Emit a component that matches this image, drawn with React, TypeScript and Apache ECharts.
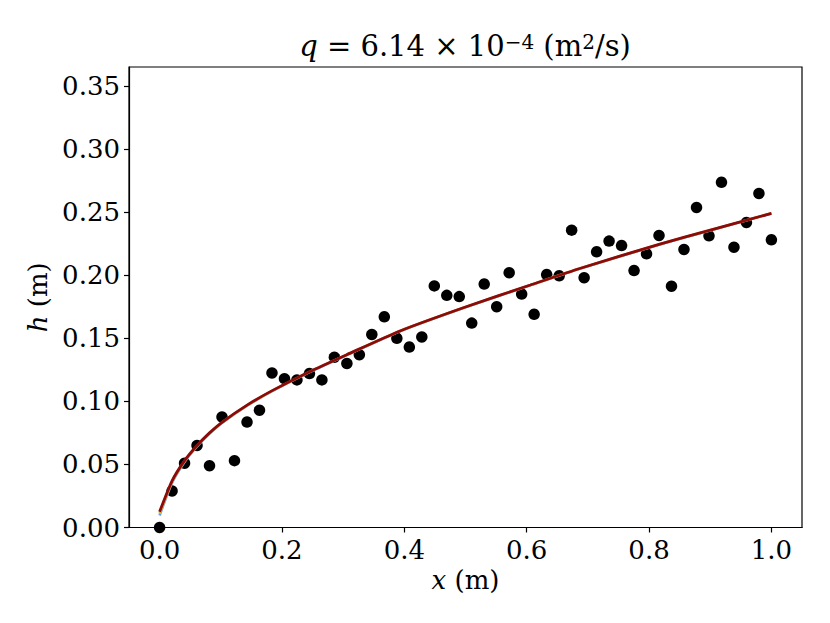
import React, { useEffect, useRef } from "react";
import * as echarts from "echarts";

const xObs = [
  0, 0.0204, 0.0408, 0.0612, 0.0816, 0.102, 0.1224, 0.1429, 0.1633, 0.1837,
  0.2041, 0.2245, 0.2449, 0.2653, 0.2857, 0.3061, 0.3265, 0.3469, 0.3673, 0.3878,
  0.4082, 0.4286, 0.449, 0.4694, 0.4898, 0.5102, 0.5306, 0.551, 0.5714, 0.5918,
  0.6122, 0.6327, 0.6531, 0.6735, 0.6939, 0.7143, 0.7347, 0.7551, 0.7755, 0.7959,
  0.8163, 0.8367, 0.8571, 0.8776, 0.898, 0.9184, 0.9388, 0.9592, 0.9796, 1.0,
];
const hObs = [
  0.0, 0.029, 0.051, 0.065, 0.049, 0.0876, 0.053, 0.0836, 0.093, 0.1225,
  0.118, 0.117, 0.122, 0.117, 0.135, 0.13, 0.137, 0.153, 0.167, 0.15,
  0.143, 0.151, 0.1915, 0.184, 0.183, 0.162, 0.193, 0.175, 0.202, 0.185,
  0.169, 0.2005, 0.1995, 0.2357, 0.198, 0.2185, 0.227, 0.2235, 0.2037, 0.2169,
  0.2315, 0.1913, 0.2204, 0.2537, 0.2312, 0.2736, 0.2222, 0.2418, 0.2648, 0.228,
];

const xFit = [0, 0.0204, 0.0408, 0.0612, 0.0816, 0.102, 0.143, 0.184, 0.245, 0.306, 0.394, 0.5, 0.606, 0.688, 0.819, 0.9, 1.0];
const hFitRed = [0.0125, 0.037, 0.053, 0.065, 0.075, 0.0834, 0.097, 0.1085, 0.1235, 0.137, 0.156, 0.1748, 0.1922, 0.2055, 0.2248, 0.2357, 0.249];
const hFitOrange = [0.011, 0.0362, 0.0525, 0.0646, 0.0747, 0.0832, 0.0968, 0.1083, 0.1234, 0.1369, 0.1559, 0.1747, 0.1921, 0.2054, 0.2247, 0.2356, 0.249];
const hFitBlue = [0.0095, 0.0355, 0.052, 0.0642, 0.0744, 0.0829, 0.0966, 0.1081, 0.1232, 0.1367, 0.1558, 0.1746, 0.192, 0.2053, 0.2246, 0.2355, 0.2489];

const yTicks = [0, 0.05, 0.1, 0.15, 0.2, 0.25, 0.3, 0.35];
const xTicks = [0, 0.2, 0.4, 0.6, 0.8, 1.0];

const FONT = "DejaVu Serif";
const FS = 26;

function pairs(xs: number[], ys: number[]) {
  return xs.map((x, i) => [x, ys[i]]);
}

export default function App() {
  const ref = useRef<HTMLDivElement>(null);
  useEffect(() => {
    if (!ref.current) return;
    const chart = echarts.init(ref.current, null, { renderer: "svg" });
    const lineStyle = { color: "#000", width: 1.2 };
    const nameStyle = {
      fontFamily: FONT,
      fontSize: FS,
      color: "#000",
      rich: { i: { fontFamily: FONT, fontSize: FS, fontStyle: "italic", color: "#000" } },
    };
    chart.setOption({
      animation: false,
      backgroundColor: "#fff",
      grid: {
        left: 129,
        top: 67,
        width: 673,
        height: 460.5,
        show: true,
        borderColor: "#000",
        borderWidth: 1.2,
        containLabel: false,
      },
      graphic: [
        {
          type: "text",
          x: 465,
          y: 46,
          style: {
            text: "{i|q} = 6.14 × 10{sup|−4} (m{sup|2}/s)",
            fontFamily: FONT,
            fontSize: 29,
            fill: "#000",
            textAlign: "center",
            textVerticalAlign: "middle",
            rich: {
              i: { fontFamily: FONT, fontSize: 29, fontStyle: "italic", fill: "#000" },
              sup: { fontFamily: FONT, fontSize: 20, fill: "#000", verticalAlign: "top", lineHeight: 20 },
            },
          },
        },
      ],
      xAxis: {
        type: "value",
        min: -0.05,
        max: 1.05,
        axisLine: { show: true, onZero: false, lineStyle },
        axisTick: { show: true, length: 5, customValues: xTicks, lineStyle },
        splitLine: { show: false },
        axisLabel: {
          customValues: xTicks,
          margin: 9,
          fontFamily: FONT,
          fontSize: FS,
          color: "#000",
          formatter: (v: number) => v.toFixed(1),
        },
        name: "{i|x} (m)",
        nameLocation: "middle",
        nameGap: 36,
        nameTextStyle: nameStyle,
      },
      yAxis: {
        type: "value",
        min: 0,
        max: 0.365,
        axisLine: { show: true, onZero: false, lineStyle },
        axisTick: { show: true, length: 5, customValues: yTicks, lineStyle },
        splitLine: { show: false },
        axisLabel: {
          customValues: yTicks,
          margin: 9,
          fontFamily: FONT,
          fontSize: FS,
          color: "#000",
          formatter: (v: number) => v.toFixed(2),
        },
        name: "{i|h} (m)",
        nameLocation: "middle",
        nameRotate: 90,
        nameGap: 76,
        nameTextStyle: nameStyle,
      },
      series: [
        {
          type: "scatter",
          data: pairs(xObs, hObs),
          symbol: "circle",
          symbolSize: 11.5,
          itemStyle: { color: "#000", opacity: 1 },
          z: 2,
          clip: false,
        },
        {
          type: "line",
          data: pairs(xFit, hFitBlue),
          showSymbol: false,
          symbol: "none",
          smooth: 0.2,
          lineStyle: { color: "#5aa7ee", width: 2.6 },
          z: 3,
        },
        {
          type: "line",
          data: pairs(xFit, hFitOrange),
          showSymbol: false,
          symbol: "none",
          smooth: 0.2,
          lineStyle: { color: "#f2b233", width: 2.6 },
          z: 4,
        },
        {
          type: "line",
          data: pairs(xFit, hFitRed),
          showSymbol: false,
          symbol: "none",
          smooth: 0.2,
          lineStyle: { color: "#8b0a0a", width: 2.8 },
          z: 5,
        },
      ],
    });
    return () => chart.dispose();
  }, []);
  return (
    <div
      ref={ref}
      style={{ position: "fixed", left: 0, top: 0, width: 830, height: 623, background: "#fff" }}
    />
  );
}
